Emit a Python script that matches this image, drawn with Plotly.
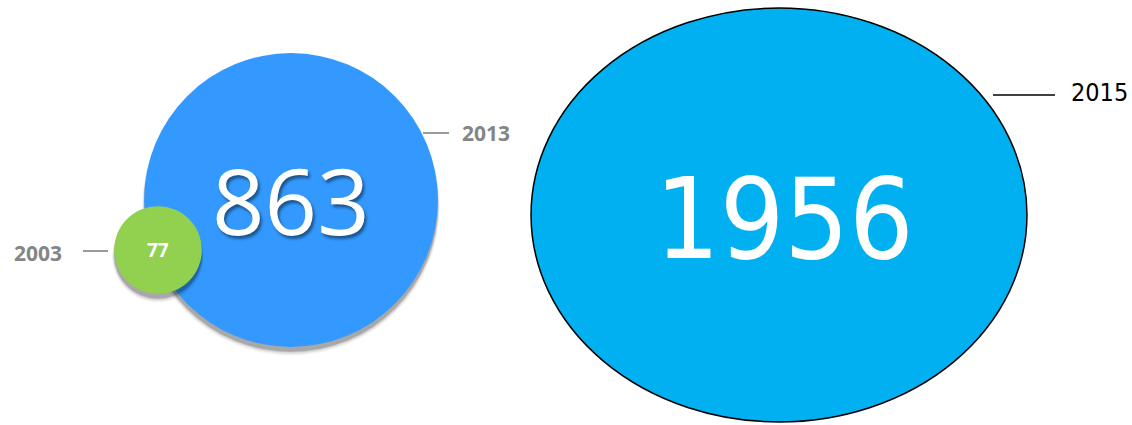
import math
import plotly.graph_objects as go

# ---- data ----
years = ["2003", "2013", "2015"]
values = [77, 863, 1956]

# ---- style / layout constants ----
W, H = 1132, 425
LEFT_SPLIT = 530  # pixel where the right panel starts
colors = ["#92D050", "#3399FF", "#00B0F0"]

# left panel: 5 px per data unit (equal aspect)
L_PX = 5.0
left_centers = {"2003": (158 / L_PX, 250 / L_PX), "2013": (291 / L_PX, 200 / L_PX)}
# right panel: axis scales stretch the circle into an ellipse
R_PX_X, R_PX_Y = 5.607, 4.68
right_center = ((779 - LEFT_SPLIT) / R_PX_X, 215 / R_PX_Y)


def px(x, y):
    return x / W, 1 - y / H


fig = go.Figure()
# invisible traces so both subplots exist
fig.add_trace(go.Scatter(x=[0], y=[0], mode="markers", marker=dict(opacity=0),
                         xaxis="x", yaxis="y", hoverinfo="skip", showlegend=False))
fig.add_trace(go.Scatter(x=[0], y=[0], mode="markers", marker=dict(opacity=0),
                         xaxis="x2", yaxis="y2", hoverinfo="skip", showlegend=False))

shapes = []
annotations = []


def shadow(cx, cy, r, xref, yref, dy):
    out = []
    for k, op in [(4.0, 0.05), (2.5, 0.07), (1.2, 0.10), (0.3, 0.16)]:
        out.append(dict(type="circle", xref=xref, yref=yref,
                        x0=cx - r - k / L_PX * 0.5, x1=cx + r + k / L_PX * 0.5,
                        y0=cy - r + dy, y1=cy + r + dy + k / L_PX,
                        fillcolor=f"rgba(0,0,0,{op})", line=dict(width=0), layer="above"))
    return out


# left panel circles: blue 2013 first, then green 2003 on top
order = [1, 0]
for i in order:
    yr, v, c = years[i], values[i], colors[i]
    cx, cy = left_centers[yr]
    r = math.sqrt(v)
    shapes += shadow(cx, cy, r, "x", "y", 0.9)
    shapes.append(dict(type="circle", xref="x", yref="y",
                       x0=cx - r, x1=cx + r, y0=cy - r, y1=cy + r,
                       fillcolor=c, line=dict(width=0), layer="above"))

# right panel ellipse
r2 = math.sqrt(values[2])
cx2, cy2 = right_center
shapes.append(dict(type="circle", xref="x2", yref="y2",
                   x0=cx2 - r2, x1=cx2 + r2, y0=cy2 - r2, y1=cy2 + r2,
                   fillcolor=colors[2], line=dict(color="black", width=1.5), layer="above"))

# leader lines (pixel positions)
leaders = [((83, 251), (108, 251), "#9a9a9a", 2),
           ((423, 133), (449, 133), "#9a9a9a", 2),
           ((993, 95), (1055, 95), "black", 1.5)]
for (x0, y0), (x1, y1), col, w in leaders:
    a0, b0 = px(x0, y0)
    a1, b1 = px(x1, y1)
    shapes.append(dict(type="line", xref="paper", yref="paper", x0=a0, y0=b0, x1=a1, y1=b1,
                       line=dict(color=col, width=w), layer="above"))

# year labels
gx, gy = px(64, 253)
annotations.append(dict(x=gx, y=gy, xref="paper", yref="paper", text=years[0], showarrow=False,
                        xanchor="right", yanchor="middle",
                        font=dict(family="Open Sans", size=21, color="#858585", weight="bold")))
gx, gy = px(460, 133)
annotations.append(dict(x=gx, y=gy, xref="paper", yref="paper", text=years[1], showarrow=False,
                        xanchor="left", yanchor="middle",
                        font=dict(family="Open Sans", size=21, color="#858585", weight="bold")))
gx, gy = px(1069, 93)
annotations.append(dict(x=gx, y=gy, xref="paper", yref="paper", text=years[2], showarrow=False,
                        xanchor="left", yanchor="middle",
                        font=dict(family="DejaVu Sans Condensed", size=25, color="black")))

# value labels
cxg, cyg = left_centers["2003"]
annotations.append(dict(x=cxg, y=cyg, xref="x", yref="y", text=str(values[0]), showarrow=False,
                        xanchor="center", yanchor="middle",
                        font=dict(family="Open Sans", size=19, color="white", weight="bold")))
cxb, cyb = left_centers["2013"]
annotations.append(dict(x=cxb, y=cyb, xref="x", yref="y", text=str(values[1]), showarrow=False,
                        xanchor="center", yanchor="middle", yshift=1,
                        font=dict(family="Open Sans", size=92, color="white",
                                  shadow="2px 3px 3px rgba(0,0,0,0.45)")))
annotations.append(dict(x=cx2, y=cy2, xref="x2", yref="y2", text=str(values[2]), showarrow=False,
                        xanchor="center", yanchor="middle", yshift=-4, xshift=5,
                        font=dict(family="DejaVu Sans Condensed", size=113, color="white")))

axis_common = dict(visible=False, showgrid=False, zeroline=False, fixedrange=True)
fig.update_layout(
    width=W, height=H, margin=dict(l=0, r=0, t=0, b=0),
    paper_bgcolor="white", plot_bgcolor="white", showlegend=False,
    xaxis=dict(domain=[0, LEFT_SPLIT / W], range=[0, LEFT_SPLIT / L_PX], **axis_common),
    yaxis=dict(domain=[0, 1], range=[H / L_PX, 0], **axis_common),
    xaxis2=dict(domain=[LEFT_SPLIT / W, 1], range=[0, (W - LEFT_SPLIT) / R_PX_X], **axis_common),
    yaxis2=dict(domain=[0, 1], range=[H / R_PX_Y, 0], anchor="x2", **axis_common),
    shapes=shapes, annotations=annotations,
)
fig.write_html("out.html", config={"displayModeBar": False},
               post_script="document.body.style.margin='0';document.body.style.overflow='hidden';")
